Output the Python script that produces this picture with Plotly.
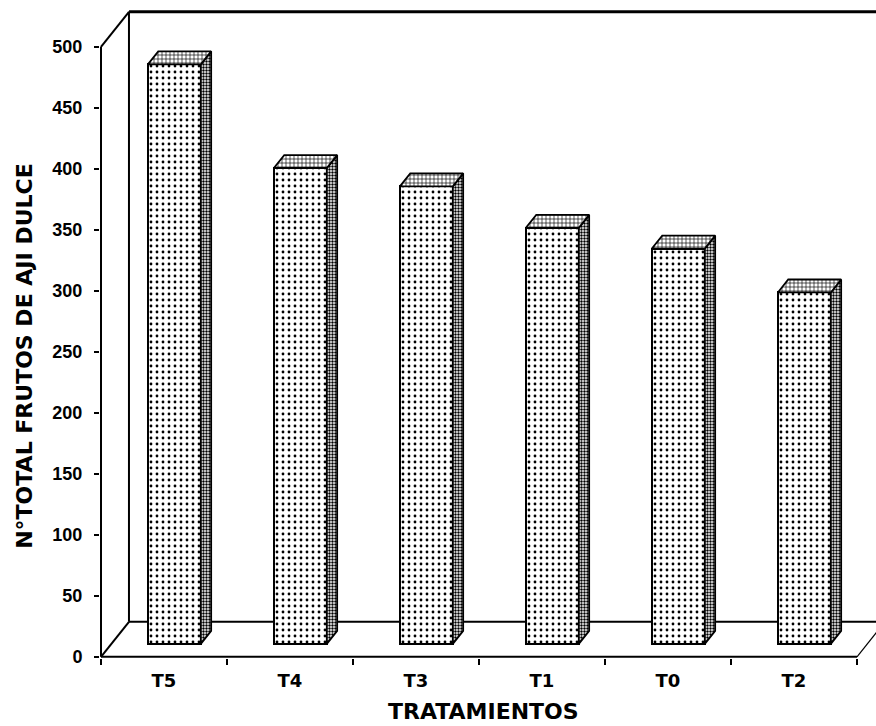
import plotly.graph_objects as go

# Data
categories = ["T5", "T4", "T3", "T1", "T0", "T2"]
frutos = [475, 390, 375, 341, 324, 288]
y_ticks = [0, 50, 100, 150, 200, 250, 300, 350, 400, 450, 500]

# Pseudo-3D geometry (x in category units, y in value units)
DEPTH_X = 0.222      # horizontal shift of the back wall
DEPTH_Y = 28.7       # vertical shift of the back wall
FRONT = 0.37         # share of the depth in front of the bars
BAR_DEPTH = 0.37     # share of the depth taken by each bar
BAR_W = 0.42
Y_MAX = 500

n = len(categories)
xs = list(range(n))
x_left, x_right = -0.5, n - 0.5

off_x, off_y = FRONT * DEPTH_X, FRONT * DEPTH_Y
dx, dy = BAR_DEPTH * DEPTH_X, BAR_DEPTH * DEPTH_Y

fig = go.Figure()

# Front faces of the bars
fig.add_trace(go.Bar(
    x=[i + off_x for i in xs], y=frutos, base=[off_y] * n, width=BAR_W,
    marker=dict(color="white", line=dict(color="black", width=2),
                pattern=dict(shape=".", size=6, solidity=0.17, fgcolor="black",
                             bgcolor="white", fillmode="replace")),
    showlegend=False, hoverinfo="skip"))

# Side and top faces
side_x, side_y, top_x, top_y = [], [], [], []
for i, v in zip(xs, frutos):
    xl = i + off_x - BAR_W / 2
    xr = i + off_x + BAR_W / 2
    b, t = off_y, off_y + v
    side_x += [xr, xr + dx, xr + dx, xr, xr, None]
    side_y += [b, b + dy, t + dy, t, b, None]
    top_x += [xl, xl + dx, xr + dx, xr, xl, None]
    top_y += [t, t + dy, t + dy, t, t, None]

fig.add_trace(go.Scatter(
    x=side_x, y=side_y, mode="lines", fill="toself", fillcolor="white",
    line=dict(color="black", width=1.8),
    fillpattern=dict(shape=".", size=3, solidity=0.5, fgcolor="black",
                     bgcolor="white", fillmode="replace"),
    showlegend=False, hoverinfo="skip"))
fig.add_trace(go.Scatter(
    x=top_x, y=top_y, mode="lines", fill="toself", fillcolor="white",
    line=dict(color="black", width=1.8),
    fillpattern=dict(shape="+", size=4, solidity=0.3, fgcolor="black",
                     bgcolor="white", fillmode="replace"),
    showlegend=False, hoverinfo="skip"))

# Frame: front axes, back wall and floor
bx0 = x_left + DEPTH_X
frame = [
    (x_left, 0, x_left, Y_MAX, 2),                         # front value axis
    (x_left, Y_MAX, bx0, Y_MAX + DEPTH_Y, 2),              # top-left edge
    (bx0, DEPTH_Y, bx0, Y_MAX + DEPTH_Y, 2),               # back wall left edge
    (bx0, Y_MAX + DEPTH_Y, x_right + DEPTH_X, Y_MAX + DEPTH_Y, 3),  # back wall top
    (bx0, DEPTH_Y, x_right + DEPTH_X, DEPTH_Y, 2),         # floor back edge
    (x_left, 0, bx0, DEPTH_Y, 2),                          # floor left edge
    (x_right, 0, x_right + DEPTH_X, DEPTH_Y, 1.2),         # floor right edge
    (x_left, 0, x_right, 0, 2),                            # front category axis
]
for x0, y0, x1, y1, w in frame:
    fig.add_shape(type="line", x0=x0, y0=y0, x1=x1, y1=y1, xref="x", yref="y",
                  line=dict(color="black", width=w), layer="below")

PX_CAT = 126.0
PX_VAL = 1.22
plot_w, plot_h = 776, 649
xr0 = x_left - 1 / PX_CAT
yr0 = -1

fig.update_xaxes(
    range=[xr0, xr0 + plot_w / PX_CAT],
    tickmode="array", tickvals=xs, ticktext=categories, ticks="",
    minor=dict(tickmode="array", tickvals=[x_left + k for k in range(n + 1)],
               ticks="outside", ticklen=6, tickwidth=1.5, tickcolor="black"),
    showgrid=False, zeroline=False, showline=False,
    tickfont=dict(family="DejaVu Sans", size=18, color="black", weight="bold"),
    ticklabelstandoff=10)
fig.update_yaxes(
    range=[yr0, yr0 + plot_h / PX_VAL],
    tickmode="array", tickvals=y_ticks, ticks="outside", ticklen=5,
    tickwidth=1.5, tickcolor="black",
    showgrid=False, zeroline=False, showline=False,
    tickfont=dict(family="Liberation Sans", size=18, color="black", weight="bold"),
    ticklabelstandoff=8)

fig.add_annotation(
    text="N°TOTAL FRUTOS DE AJI DULCE", textangle=-90,
    xref="paper", yref="paper", x=(25 - 100) / plot_w, y=(658.2 - 356) / plot_h,
    xanchor="center", yanchor="middle", showarrow=False,
    font=dict(family="DejaVu Sans", size=22, color="black", weight="bold"))
fig.add_annotation(
    text="TRATAMIENTOS",
    xref="paper", yref="paper", x=(483 - 100) / plot_w, y=(658.2 - 712) / plot_h,
    xanchor="center", yanchor="middle", showarrow=False,
    font=dict(family="DejaVu Sans", size=22, color="black", weight="bold"))

fig.update_layout(
    width=876, height=726,
    margin=dict(l=100, r=0, t=9, b=68),
    paper_bgcolor="white", plot_bgcolor="white",
    showlegend=False, bargap=0)

fig.write_html("out.html")
